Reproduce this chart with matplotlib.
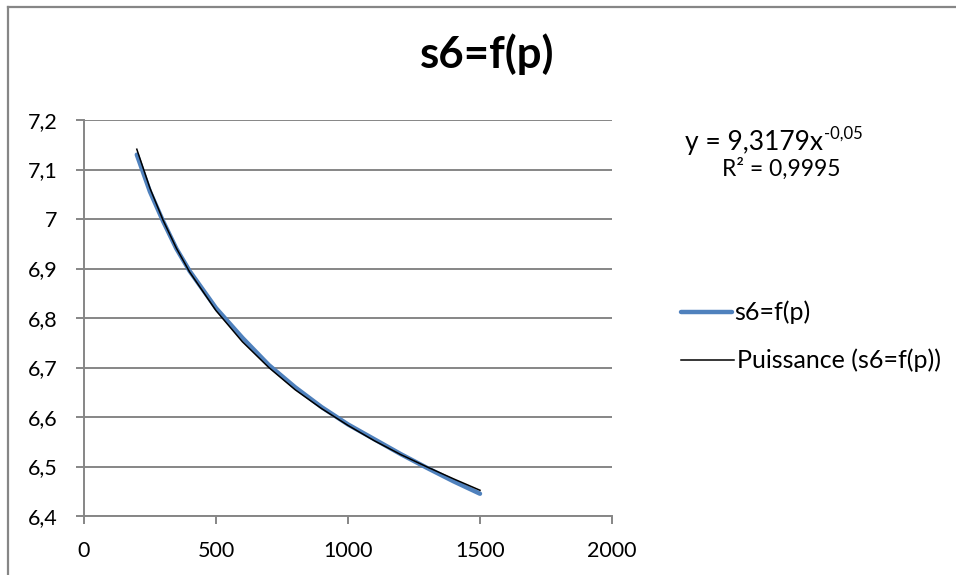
import matplotlib
matplotlib.use("Agg")
import matplotlib.pyplot as plt
from matplotlib.lines import Line2D

# Measured values s6 = f(p)
p_values = [200, 250, 300, 350, 400, 500, 600, 700, 800, 900, 1000, 1100, 1200, 1300, 1400, 1500]
s6_values = [7.130, 7.055, 6.995, 6.940, 6.895, 6.820, 6.760, 6.705, 6.660, 6.620,
             6.585, 6.555, 6.525, 6.497, 6.470, 6.445]

# Power trend line (Puissance)
trend_values = [7.141, 7.062, 6.997, 6.941, 6.893, 6.815, 6.752, 6.700, 6.655, 6.617,
                6.583, 6.552, 6.524, 6.499, 6.475, 6.452]

x_ticks = [0, 500, 1000, 1500, 2000]
y_ticks = [6.4, 6.5, 6.6, 6.7, 6.8, 6.9, 7.0, 7.1, 7.2]
y_tick_labels = ["6,4", "6,5", "6,6", "6,7", "6,8", "6,9", "7", "7,1", "7,2"]

title = "s6=f(p)"
series_label = "s6=f(p)"
trend_label = "Puissance (s6=f(p))"
equation = "y = 9,3179x"
exponent = "-0,05"
r_squared = "R² = 0,9995"

plt.rcParams["font.family"] = ["Lato", "DejaVu Sans"]
grid_color = "#868686"
W, H = 956, 575

fig = plt.figure(figsize=(9.56, 5.75), dpi=100)

# chart area border (only top and left are visible in the crop)
fig.add_artist(Line2D([8 / W, 8 / W], [0, 1 - 7 / H], color=grid_color, lw=1.6))
fig.add_artist(Line2D([8 / W, 1], [1 - 7 / H, 1 - 7 / H], color=grid_color, lw=1.6))

ax = fig.add_axes([84 / W, 1 - 516 / H, 528 / W, 396 / H])

ax.plot(p_values, s6_values, color="#4F81BD", lw=3.2, solid_capstyle="round", zorder=3)
ax.plot(p_values, trend_values, color="black", lw=1.1, zorder=4)

ax.set_xlim(0, 2000)
ax.set_ylim(6.4, 7.2)
ax.set_xticks(x_ticks)
ax.set_xticklabels([str(v) for v in x_ticks])
ax.set_yticks(y_ticks)
ax.set_yticklabels(y_tick_labels)

ax.grid(axis="y", color=grid_color, lw=1.4)
ax.set_axisbelow(True)
for side in ["top", "right"]:
    ax.spines[side].set_visible(False)
for side in ["left", "bottom"]:
    ax.spines[side].set_color(grid_color)
    ax.spines[side].set_linewidth(1.4)
ax.tick_params(axis="both", colors=grid_color, labelcolor="black", labelsize=15.5,
               length=6, width=1.4, direction="out")
ax.tick_params(axis="x", pad=12)
ax.tick_params(axis="y", pad=13)

fig.text(487 / W, 1 - 54 / H, title, ha="center", va="center",
         fontsize=31.5, fontweight="bold")

# equation of the trend line, exponent placed right after the base text
eq = fig.text(685 / W, 1 - 150 / H, equation, ha="left", va="baseline", fontsize=19)
fig.canvas.draw()
eq_box = eq.get_window_extent()
fig.text(eq_box.x1 / W + 1 / W, 1 - 139 / H, exponent, ha="left", va="baseline", fontsize=12)
fig.text(781 / W, 1 - 176 / H, r_squared, ha="center", va="baseline", fontsize=16.5)

# legend drawn by hand to match the Excel layout
fig.add_artist(Line2D([681 / W, 732 / W], [1 - 312 / H, 1 - 312 / H],
                      color="#4F81BD", lw=3.2, solid_capstyle="round"))
fig.text(734 / W, 1 - 312 / H, series_label, ha="left", va="center", fontsize=18)
fig.add_artist(Line2D([681 / W, 734 / W], [1 - 360 / H, 1 - 360 / H],
                      color="black", lw=1.1))
fig.text(737 / W, 1 - 360 / H, trend_label, ha="left", va="center", fontsize=18)

fig.savefig("out.png", dpi=100)
